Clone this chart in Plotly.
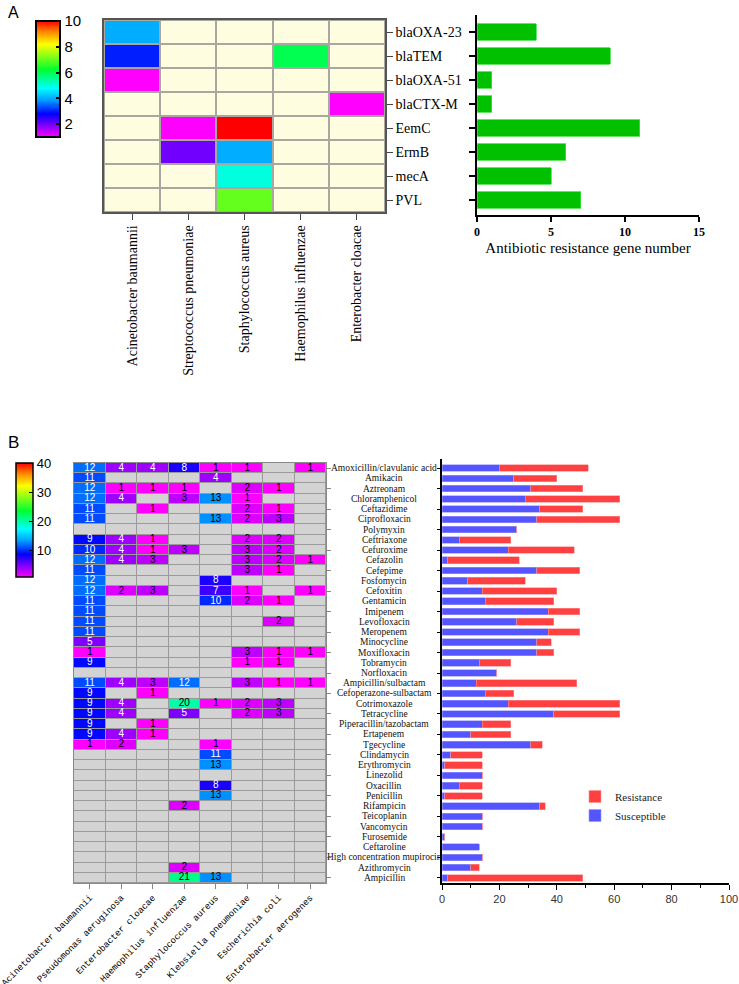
import plotly.graph_objects as go

# ---------------- Panel A data ----------------
organisms_A = ["Acinetobacter baumannii", "Streptococcus pneumoniae", "Staphylococcus aureus",
               "Haemophilus influenzae", "Enterobacter cloacae"]
genes_A = ["blaOXA-23", "blaTEM", "blaOXA-51", "blaCTX-M", "EemC", "ErmB", "mecA", "PVL"]
N = None
gene_matrix = [
    [4, N, N, N, N],
    [3, N, N, 6, N],
    [1, N, N, N, N],
    [N, N, N, N, 1],
    [N, 1, 10, N, N],
    [N, 2, 4, N, N],
    [N, N, 5, N, N],
    [N, N, 7, N, N],
]
gene_totals = [4, 9, 1, 1, 11, 6, 5, 7]

# ---------------- Panel B data ----------------
organisms_B = ["Acinetobacter baumannii", "Pseudomonas aeruginosa", "Enterobacter cloacae",
               "Haemophilus influenzae", "Staphylococcus aureus", "Klebsiella pneumoniae",
               "Escherichia coli", "Enterobacter aerogenes"]
antibiotics = ["Amoxicillin/clavulanic acid", "Amikacin", "Aztreonam", "Chloramphenicol", "Ceftazidime",
               "Ciprofloxacin", "Polymyxin", "Ceftriaxone", "Cefuroxime", "Cefazolin", "Cefepime",
               "Fosfomycin", "Cefoxitin", "Gentamicin", "Imipenem", "Levofloxacin", "Meropenem",
               "Minocycline", "Moxifloxacin", "Tobramycin", "Norfloxacin", "Ampicillin/sulbactam",
               "Cefoperazone-sulbactam", "Cotrimoxazole", "Tetracycline", "Piperacillin/tazobactam",
               "Ertapenem", "Tgecycline", "Clindamycin", "Erythromycin", "Linezolid", "Oxacillin",
               "Penicillin", "Rifampicin", "Teicoplanin", "Vancomycin", "Furosemide", "Ceftaroline",
               "High concentration mupirocin", "Azithromycin", "Ampicillin"]
resist_matrix = [
    [12, 4, 4, 8, 1, 1, N, 1],
    [11, N, N, N, 4, N, N, N],
    [12, 1, 1, 1, N, 2, 1, N],
    [12, 4, N, 3, 13, 1, N, N],
    [11, N, 1, N, N, 2, 1, N],
    [11, N, N, N, 13, 2, 3, N],
    [N, N, N, N, N, N, N, N],
    [9, 4, 1, N, N, 2, 2, N],
    [10, 4, 1, 3, N, 3, 2, N],
    [12, 4, 3, N, N, 3, 2, 1],
    [11, N, N, N, N, 3, 1, N],
    [12, N, N, N, 8, N, N, N],
    [12, 2, 3, N, 7, 1, N, 1],
    [11, N, N, N, 10, 2, 1, N],
    [11, N, N, N, N, N, N, N],
    [11, N, N, N, N, N, 2, N],
    [11, N, N, N, N, N, N, N],
    [5, N, N, N, N, N, N, N],
    [1, N, N, N, N, 3, 1, 1],
    [9, N, N, N, N, 1, 1, N],
    [N, N, N, N, N, N, N, N],
    [11, 4, 3, 12, N, 3, 1, 1],
    [9, N, 1, N, N, N, N, N],
    [9, 4, N, 20, 1, 2, 3, N],
    [9, 4, N, 5, N, 2, 3, N],
    [9, N, 1, N, N, N, N, N],
    [9, 4, 1, N, N, N, N, N],
    [1, 2, N, N, 1, N, N, N],
    [N, N, N, N, 11, N, N, N],
    [N, N, N, N, 13, N, N, N],
    [N, N, N, N, N, N, N, N],
    [N, N, N, N, 8, N, N, N],
    [N, N, N, N, 13, N, N, N],
    [N, N, N, 2, N, N, N, N],
    [N, N, N, N, N, N, N, N],
    [N, N, N, N, N, N, N, N],
    [N, N, N, N, N, N, N, N],
    [N, N, N, N, N, N, N, N],
    [N, N, N, N, N, N, N, N],
    [N, N, N, 2, N, N, N, N],
    [N, N, N, 21, 13, N, N, N],
]
susceptible = [20, 25, 31, 29, 34, 33, 26, 6, 23, 2, 33, 9, 14, 15, 37, 26, 37, 33, 33, 13,
               19, 12, 15, 23, 39, 14, 10, 31, 3, 1, 14, 6, 1, 34, 14, 14, 1, 13, 14, 10, 2]
resistance = [31, 15, 18, 33, 15, 29, 0, 18, 23, 25, 15, 20, 26, 24, 11, 13, 11, 5, 6, 11,
              0, 35, 10, 39, 23, 10, 14, 4, 11, 13, 0, 8, 13, 2, 0, 0, 0, 0, 0, 3, 47]

# ---------------- layout helpers ----------------
W, H = 739, 984
def fx(p): return p / W
def fy(p): return 1 - p / H

SERIF = "Liberation Serif, Times New Roman, serif"
SANS = "Liberation Sans, Arial, sans-serif"
MONO = "Liberation Mono, Courier New, monospace"

cscale = [[0, "#FF00FF"], [0.1, "#8000FF"], [0.2, "#0000FF"], [0.32, "#00A0FF"], [0.42, "#00FFFF"],
          [0.58, "#00FF30"], [0.8, "#FFFF00"], [0.9, "#FF9000"], [1, "#FF0000"]]

fig = go.Figure()

# Panel A heatmap
fig.add_trace(go.Heatmap(z=[[0] * len(organisms_A) for _ in genes_A], x=organisms_A, y=genes_A,
                         colorscale=[[0, "#FFFDE0"], [1, "#FFFDE0"]], showscale=False, xgap=2, ygap=2,
                         hoverinfo="skip", xaxis="x", yaxis="y"))
fig.add_trace(go.Heatmap(z=gene_matrix, x=organisms_A, y=genes_A, coloraxis="coloraxis",
                         xgap=2, ygap=2, xaxis="x", yaxis="y"))
# Panel A bars
fig.add_trace(go.Bar(x=gene_totals, y=genes_A, orientation="h", marker=dict(color="#00C000",
                     line=dict(color="#40E040", width=0.8)), width=0.67, showlegend=False,
                     xaxis="x2", yaxis="y2"))

# Panel B heatmap
fig.add_trace(go.Heatmap(z=[[0] * len(organisms_B) for _ in antibiotics], x=organisms_B, y=antibiotics,
                         colorscale=[[0, "#D3D3D3"], [1, "#D3D3D3"]], showscale=False, xgap=1, ygap=1,
                         hoverinfo="skip", xaxis="x3", yaxis="y3"))
fig.add_trace(go.Heatmap(z=resist_matrix, x=organisms_B, y=antibiotics, coloraxis="coloraxis2",
                         xgap=1, ygap=1, xaxis="x3", yaxis="y3"))
tx, ty, tt, tc = [], [], [], []
for i, ab in enumerate(antibiotics):
    for j, org in enumerate(organisms_B):
        v = resist_matrix[i][j]
        if v is not None:
            tx.append(org); ty.append(ab); tt.append(str(v))
            tc.append("white" if 4 <= v <= 12 else "black")
fig.add_trace(go.Scatter(x=tx, y=ty, text=tt, mode="text", textfont=dict(family=SANS, size=10, color=tc),
                         showlegend=False, hoverinfo="skip", xaxis="x3", yaxis="y3"))

# Panel B bars
fig.add_trace(go.Bar(x=susceptible, y=antibiotics, orientation="h", name="Susceptible",
                     marker=dict(color="#5555FF", line=dict(color="#9999FF", width=0.6)), width=0.65,
                     xaxis="x4", yaxis="y4"))
fig.add_trace(go.Bar(x=resistance, y=antibiotics, orientation="h", name="Resistance",
                     marker=dict(color="#FF4040", line=dict(color="#FF9090", width=0.6)), width=0.65,
                     xaxis="x4", yaxis="y4"))

annotations = [
    dict(text="A", x=fx(6), y=fy(12), xref="paper", yref="paper", xanchor="left", yanchor="middle",
         showarrow=False, font=dict(family=SANS, size=16, color="black")),
    dict(text="B", x=fx(6), y=fy(442), xref="paper", yref="paper", xanchor="left", yanchor="middle",
         showarrow=False, font=dict(family=SANS, size=17, color="black")),
]
for ab in antibiotics:
    annotations.append(dict(text=ab, x=fx(384), y=ab, xref="paper", yref="y4", xanchor="center",
                            yanchor="middle", showarrow=False,
                            font=dict(family=SERIF, size=9.5, color="#111")))

shapes = [
    dict(type="rect", xref="x domain", yref="y domain", x0=0, x1=1, y0=0, y1=1,
         fillcolor="#A8A8A0", line=dict(width=0), layer="below"),
    dict(type="rect", xref="x3 domain", yref="y3 domain", x0=0, x1=1, y0=0, y1=1,
         fillcolor="#9A9A9A", line=dict(width=0), layer="below"),
]

fig.update_layout(
    width=W, height=H, margin=dict(l=0, r=0, t=0, b=0),
    paper_bgcolor="white", plot_bgcolor="white", barmode="stack",
    font=dict(family=SERIF, color="black"),
    coloraxis=dict(colorscale=cscale, cmin=1, cmax=10,
                   colorbar=dict(x=fx(36), xanchor="left", y=fy(21), yanchor="top", lenmode="pixels",
                                 len=116, thickness=24, xpad=0, ypad=0, outlinewidth=2,
                                 outlinecolor="black", tickvals=[2, 4, 6, 8, 10], ticks="inside",
                                 ticklen=5, tickwidth=1.5, tickcolor="black",
                                 tickfont=dict(family=SANS, size=15, color="black"))),
    coloraxis2=dict(colorscale=cscale, cmin=1, cmax=40,
                    colorbar=dict(x=fx(16), xanchor="left", y=fy(463), yanchor="top", lenmode="pixels",
                                  len=114, thickness=17, xpad=0, ypad=0, outlinewidth=1.5,
                                  outlinecolor="black", tickvals=[10, 20, 30, 40], ticks="inside",
                                  ticklen=4, tickwidth=1.2, tickcolor="black",
                                  tickfont=dict(family=SANS, size=13, color="black"))),
    xaxis=dict(domain=[fx(104), fx(385)], anchor="y", type="category", categoryorder="array",
               categoryarray=organisms_A, range=[-0.5, 4.5], tickangle=-90, ticks="outside", ticklen=6,
               tickcolor="#444", tickfont=dict(family=SERIF, size=14), showline=True, mirror=True,
               linecolor="#555", linewidth=1.5, showgrid=False, zeroline=False, automargin=False),
    yaxis=dict(domain=[fy(212), fy(20)], anchor="x", type="category", categoryorder="array",
               categoryarray=genes_A, range=[7.5, -0.5], side="right", ticks="outside", ticklen=6,
               tickcolor="#444", tickfont=dict(family=SERIF, size=14), showline=True, mirror=True,
               linecolor="#555", linewidth=1.5, showgrid=False, zeroline=False, automargin=False),
    xaxis2=dict(domain=[fx(477), fx(699)], anchor="y2", range=[0, 15], tickvals=[0, 5, 10, 15],
                ticks="outside", ticklen=5, tickcolor="black", tickwidth=1.5, showline=True,
                linecolor="black", linewidth=2, showgrid=False, zeroline=False,
                tickfont=dict(family=SERIF, size=12, weight="bold"),
                title=dict(text="Antibiotic resistance gene number", font=dict(family=SERIF, size=15),
                           standoff=4), automargin=False),
    yaxis2=dict(domain=[fy(215), fy(15)], anchor="x2", type="category", categoryorder="array",
                categoryarray=genes_A, range=[7.625, -0.708], showticklabels=False, ticks="outside",
                ticklen=6, tickcolor="black", tickwidth=1.5, showline=True, linecolor="black",
                linewidth=2, showgrid=False, zeroline=False, automargin=False),
    xaxis3=dict(domain=[fx(74), fx(326)], anchor="y3", type="category", categoryorder="array",
                categoryarray=organisms_B, range=[-0.5, 7.5], tickangle=-45, ticks="outside", ticklen=5,
                tickcolor="#888", tickfont=dict(family=MONO, size=9, color="black"), showline=True,
                mirror=True, linecolor="#888", linewidth=1, showgrid=False, zeroline=False,
                automargin=False),
    yaxis3=dict(domain=[fy(883), fy(463)], anchor="x3", type="category", categoryorder="array",
                categoryarray=antibiotics, range=[40.5, -0.5], side="right", ticks="outside",
                ticklen=4, tickcolor="#888", showticklabels=False, showline=True, mirror=True,
                linecolor="#888", linewidth=1, showgrid=False, zeroline=False, automargin=False),
    xaxis4=dict(domain=[fx(442), fx(729)], anchor="y4", range=[0, 100], dtick=20, ticks="outside",
                ticklen=5, tickcolor="black", minor=dict(dtick=10, ticks="outside", ticklen=3,
                                                         tickcolor="black"),
                showline=True, linecolor="black", linewidth=1.5, showgrid=False, zeroline=False,
                tickfont=dict(family=SANS, size=11, color="#333"), automargin=False),
    yaxis4=dict(domain=[fy(883), fy(459)], anchor="x4", type="category", categoryorder="array",
                categoryarray=antibiotics, range=[40.5, -0.89], showticklabels=False, ticks="outside",
                ticklen=3, tickcolor="black", showline=True, linecolor="black", linewidth=1.5,
                showgrid=False, zeroline=False, automargin=False),
    legend=dict(x=fx(575), y=fy(782), xanchor="left", yanchor="top", traceorder="reversed",
                itemwidth=30, font=dict(family=SERIF, size=11, color="#222"), bgcolor="rgba(0,0,0,0)"),
    annotations=annotations,
    shapes=shapes,
)

fig.write_html("out.html")
